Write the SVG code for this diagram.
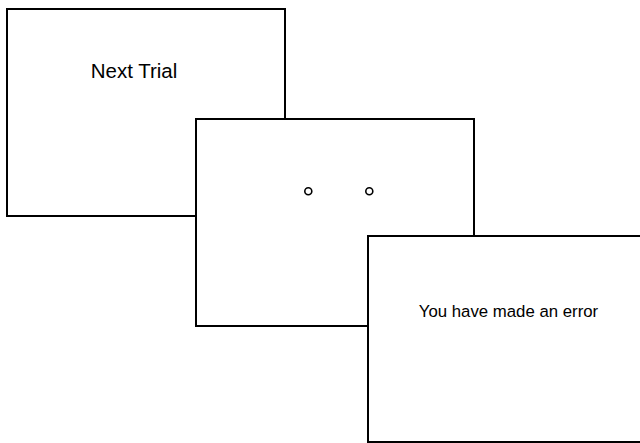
<svg xmlns="http://www.w3.org/2000/svg" width="640" height="443" viewBox="0 0 640 443">
<style>
.box{fill:#fff;stroke:#000;stroke-width:2}
.dot{fill:#fff;stroke:#000;stroke-width:1.6}
.t{font-family:"Liberation Sans",Arial,sans-serif;fill:#000;text-anchor:middle}
</style>
<rect width="640" height="443" fill="#fff"/>
<g id="screen1"><rect class="box" x="7" y="9" width="278" height="207"/><text class="t" x="134" y="77.5" font-size="20.5">Next Trial</text></g>
<g id="screen2"><rect class="box" x="196" y="119" width="278" height="207"/><circle class="dot" cx="308.3" cy="191.3" r="3.5"/><circle class="dot" cx="369.3" cy="191.3" r="3.5"/></g>
<g id="screen3"><rect class="box" x="368" y="236" width="278" height="206"/><text class="t" x="508.5" y="317" font-size="16.8">You have made an error</text></g>
<g id="connectors"></g>
</svg>
